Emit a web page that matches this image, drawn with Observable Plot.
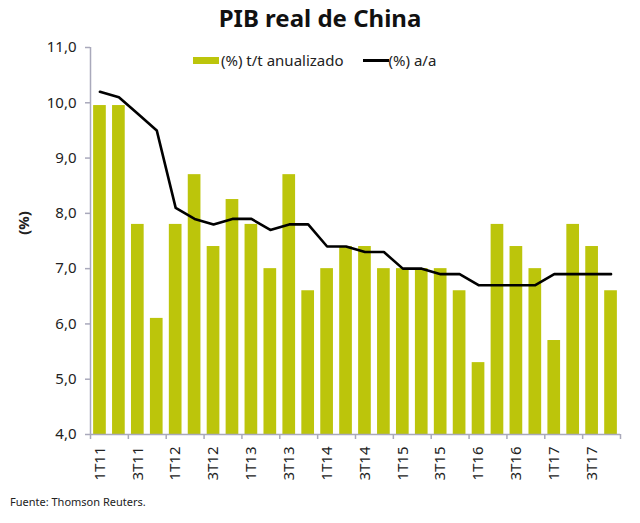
<!DOCTYPE html>
<html>
<head>
<meta charset="utf-8">
<script src="https://cdn.jsdelivr.net/npm/d3@7"></script>
<script src="https://cdn.jsdelivr.net/npm/@observablehq/plot@0.6"></script>
<style>
  html, body { margin: 0; padding: 0; background: #fff; }
  #wrap { position: relative; width: 640px; height: 523px; font-family: "Noto Sans", sans-serif; color: #222; }
  #title { height: 35px; text-align: center; font-weight: bold; font-size: 24px; line-height: 35px; color: #111; }
  #chart svg { overflow: visible; display: block; }
  #ylab { position: absolute; left: 11px; top: 213px; font-weight: bold; font-size: 15px; transform: rotate(-90deg); transform-origin: center; }
  #legend { position: absolute; top: 50px; left: 193px; font-size: 15px; display: flex; align-items: center; white-space: nowrap; }
  #legend .sw { display: inline-block; }
  #caption { position: absolute; left: 10px; top: 494px; font-size: 11px; color: #222; }
</style>
</head>
<body>
<div id="wrap">
  <div id="title">PIB real de China</div>
  <div id="chart"></div>
  <div id="ylab">(%)</div>
  <div id="legend">
    <span class="sw" style="width:26px;height:7px;background:#bcc50b;"></span>
    <span style="margin-left:2px;">(%) t/t anualizado</span>
    <span class="sw" style="width:26px;height:3px;background:#000;margin-left:19px;"></span>
    <span>(%) a/a</span>
  </div>
  <div id="caption">Fuente: Thomson Reuters.</div>
</div>
<script>
// Trimestres 2011-2017
const quarters = [
  "1T11","2T11","3T11","4T11",
  "1T12","2T12","3T12","4T12",
  "1T13","2T13","3T13","4T13",
  "1T14","2T14","3T14","4T14",
  "1T15","2T15","3T15","4T15",
  "1T16","2T16","3T16","4T16",
  "1T17","2T17","3T17","4T17"
];
// Crecimiento trimestral anualizado (%)
const qoqAnnualized = [
  9.95, 9.95, 7.8, 6.1,
  7.8, 8.7, 7.4, 8.25,
  7.8, 7.0, 8.7, 6.6,
  7.0, 7.4, 7.4, 7.0,
  7.0, 7.0, 7.0, 6.6,
  5.3, 7.8, 7.4, 7.0,
  5.7, 7.8, 7.4, 6.6
];
// Crecimiento interanual (%)
const yoy = [
  10.2, 10.1, 9.8, 9.5,
  8.1, 7.9, 7.8, 7.9,
  7.9, 7.7, 7.8, 7.8,
  7.4, 7.4, 7.3, 7.3,
  7.0, 7.0, 6.9, 6.9,
  6.7, 6.7, 6.7, 6.7,
  6.9, 6.9, 6.9, 6.9
];
const yTicks = [4, 5, 6, 7, 8, 9, 10, 11];

const data = quarters.map((q, i) => ({q, tt: qoqAnnualized[i], aa: yoy[i]}));
const labelled = quarters.filter((q, i) => i % 2 === 0);

const barColor = "#bcc50b";
const axisColor = "#a9a9bb";
const width = 640, height = 460;
const marginLeft = 90, marginRight = 20;
const step = (width - marginLeft - marginRight) / quarters.length;
const fmt = d3.format(".1f");

const chart = Plot.plot({
  width, height,
  marginTop: 12, marginBottom: 61, marginLeft, marginRight,
  style: {fontFamily: "Noto Sans, sans-serif", fontSize: "15px", color: "#222", background: "#fff"},
  x: {domain: quarters, paddingInner: 0.33, paddingOuter: 0.165, round: false, axis: null, label: null},
  y: {domain: [4, 11], axis: null, label: null},
  marks: [
    Plot.barY(data, {x: "q", y1: 4, y2: "tt", fill: barColor}),
    // eje Y
    Plot.ruleX([quarters[0]], {y1: 4, y2: 11, dx: -step / 2, stroke: axisColor, strokeWidth: 1.5}),
    Plot.axisY({ticks: yTicks, tickSize: 5, tickPadding: 9, stroke: axisColor, strokeWidth: 1.5, label: null,
      tickFormat: d => fmt(d).replace(".", ","), fill: "#222", fontSize: 15}),
    // eje X
    Plot.ruleY([4], {stroke: axisColor, strokeWidth: 1.5}),
    Plot.axisX({ticks: labelled, tickSize: 5, dx: -step / 2, stroke: axisColor, strokeWidth: 1.5, tickFormat: () => "", label: null}),
    Plot.axisX({ticks: [quarters[quarters.length - 1]], tickSize: 5, dx: step / 2, stroke: axisColor, strokeWidth: 1.5, tickFormat: () => "", label: null}),
    Plot.axisX({ticks: labelled, tickSize: 0, tickPadding: 12, tickRotate: -90, fill: "#222", fontSize: 15, label: null}),
    // interanual
    Plot.line(data, {x: "q", y: "aa", stroke: "#000", strokeWidth: 2.6, strokeLinejoin: "round"})
  ]
});
document.getElementById("chart").appendChild(chart);
</script>
</body>
</html>
